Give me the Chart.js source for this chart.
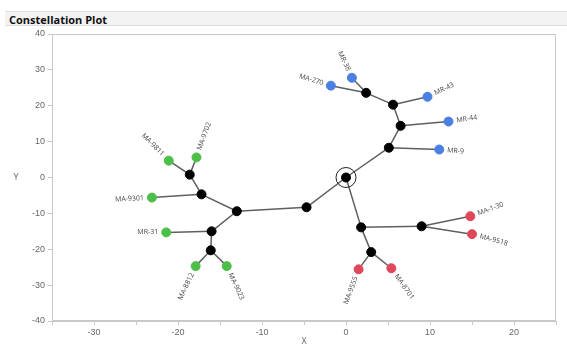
<!DOCTYPE html>
<html>
<head>
<meta charset="utf-8">
<script src="https://cdn.jsdelivr.net/npm/chart.js@4"></script>
<style>
  body { margin: 0; background: #fff; font-family: "Open Sans", sans-serif; }
  #head {
    position: absolute; left: 5px; top: 11px; width: 562px; height: 15px;
    background: #f3f3f3; border-top: 1px solid #dedede; border-bottom: 1px solid #dedede;
    font: bold 11px "Open Sans", sans-serif; color: #111; line-height: 15px; padding-left: 4px;
    box-sizing: border-box;
  }
  #wrap { position: absolute; left: 0; top: 0; width: 567px; height: 344px; }
</style>
</head>
<body>
<div id="head">Constellation Plot</div>
<div id="wrap"><canvas id="chart"></canvas></div>
<script>
// joints of the tree (black dots)
const nodeIds = ["root", "A", "B", "C", "D", "E", "F", "G", "H", "I", "J", "K", "L", "M"];
const nodeX = [0, 5.1, 6.5, 5.6, 2.4, -4.7, -13.0, -17.2, -18.6, -16.0, -16.1, 1.8, 9.0, 3.0];
const nodeY = [0, 8.3, 14.4, 20.3, 23.6, -8.3, -9.4, -4.7, 0.8, -15.0, -20.3, -13.9, -13.6, -20.8];

// leaves
const leafLabels = ["MR-9", "MR-44", "MR-43", "MR-38", "MA-270",
  "MA-9811", "MA-9702", "MA-9301", "MR-31", "MA-8812", "MA-9023",
  "MA-1-30", "MA-9518", "MA-9555", "MA-8701"];
const leafX = [11.1, 12.2, 9.7, 0.7, -1.8, -21.1, -17.8, -23.1, -21.4, -17.9, -14.2, 14.8, 15.0, 1.5, 5.4];
const leafY = [7.8, 15.6, 22.5, 27.8, 25.6, 4.7, 5.6, -5.6, -15.3, -24.7, -24.7, -10.8, -15.8, -25.6, -25.3];
const leafGroup = [0, 0, 0, 0, 0, 1, 1, 1, 1, 1, 1, 2, 2, 2, 2];
const leafParent = ["A", "B", "C", "D", "D", "H", "H", "G", "I", "J", "J", "L", "L", "M", "M"];

// joint-to-joint edges
const edgeFrom = ["root", "A", "B", "C", "root", "E", "F", "G", "F", "I", "root", "K", "K"];
const edgeTo = ["A", "B", "C", "D", "E", "F", "G", "H", "I", "J", "K", "L", "M"];

const groupColors = ["#4a7fe3", "#4cbf48", "#e0475a"];
// label rotation (deg) and side: 1 = text after dot, -1 = text ends at dot
const labelAngle = [5, -8, -25, 65, 17, 45, -70, -3, 0, -65, 65, -20, 15, -70, 55];
const labelSide = [1, 1, 1, -1, -1, -1, 1, -1, -1, -1, 1, 1, 1, -1, 1];

function pos(id) {
  const i = nodeIds.indexOf(id);
  return { x: nodeX[i], y: nodeY[i] };
}

const datasets = [];
edgeFrom.forEach((f, i) => {
  datasets.push({ type: "line", data: [pos(f), pos(edgeTo[i])], borderColor: "#5f5f5f", borderWidth: 1.5, pointRadius: 0, order: 10 });
});
leafLabels.forEach((l, i) => {
  datasets.push({ type: "line", data: [pos(leafParent[i]), { x: leafX[i], y: leafY[i] }], borderColor: "#5f5f5f", borderWidth: 1.5, pointRadius: 0, order: 10 });
});
datasets.push({
  type: "scatter",
  data: nodeIds.map((id, i) => ({ x: nodeX[i], y: nodeY[i] })),
  backgroundColor: "#000", borderColor: "#000", pointRadius: 4.5, order: 2
});
datasets.push({
  type: "scatter",
  data: leafLabels.map((l, i) => ({ x: leafX[i], y: leafY[i] })),
  backgroundColor: leafGroup.map(g => groupColors[g]),
  borderColor: leafGroup.map(g => groupColors[g]),
  pointRadius: 4.5, order: 1
});
// ring round the root
datasets.push({
  type: "scatter",
  data: [pos("root")],
  backgroundColor: "rgba(0,0,0,0)", borderColor: "#222", borderWidth: 1, pointRadius: 10, order: 3
});

const labelPlugin = {
  id: "leafLabels",
  afterDatasetsDraw(chart) {
    const ctx = chart.ctx;
    const xs = chart.scales.x, ys = chart.scales.y;
    ctx.save();
    ctx.font = "7px 'Open Sans', sans-serif";
    ctx.fillStyle = "#444";
    ctx.textBaseline = "middle";
    leafLabels.forEach((l, i) => {
      const px = xs.getPixelForValue(leafX[i]);
      const py = ys.getPixelForValue(leafY[i]);
      ctx.save();
      ctx.translate(px, py);
      ctx.rotate(labelAngle[i] * Math.PI / 180);
      ctx.textAlign = labelSide[i] > 0 ? "left" : "right";
      ctx.fillText(l, labelSide[i] * 8, 0);
      ctx.restore();
    });
    // axis titles
    ctx.font = "9px 'Open Sans', sans-serif";
    ctx.fillStyle = "#666";
    ctx.textAlign = "center";
    ctx.fillText("Y", 16, ys.getPixelForValue(0));
    ctx.fillText("X", xs.getPixelForValue(-5), 341);
    ctx.restore();
  }
};

new Chart(document.getElementById("chart"), {
  data: { datasets: datasets },
  options: {
    responsive: true,
    maintainAspectRatio: false,
    animation: false,
    layout: { padding: { top: 34, right: 7, left: 0, bottom: 0 } },
    plugins: { legend: { display: false }, tooltip: { enabled: false } },
    scales: {
      x: {
        type: "linear", min: -35, max: 25,
        afterFit: s => { s.height = 23; },
        ticks: {
          stepSize: 5, color: "#666", font: { size: 9 }, padding: 2, maxRotation: 0,
          callback: v => (v % 10 === 0 ? v : "")
        },
        grid: { drawOnChartArea: false, tickLength: 4, color: "#c8c8c8" },
        border: { color: "#c8c8c8" }
      },
      y: {
        type: "linear", min: -40, max: 40,
        afterFit: s => { s.width = 52; },
        ticks: { stepSize: 10, color: "#666", font: { size: 9 }, padding: 3 },
        grid: { drawOnChartArea: false, tickLength: 4, color: "#c8c8c8" },
        border: { color: "#c8c8c8" }
      }
    }
  },
  plugins: [labelPlugin, {
    id: "frame",
    afterDraw(chart) {
      const a = chart.chartArea, ctx = chart.ctx;
      ctx.save();
      ctx.strokeStyle = "#c8c8c8";
      ctx.lineWidth = 1;
      ctx.strokeRect(a.left + 0.5, a.top + 0.5, a.right - a.left - 1, a.bottom - a.top - 1);
      ctx.restore();
    }
  }]
});
</script>
</body>
</html>
